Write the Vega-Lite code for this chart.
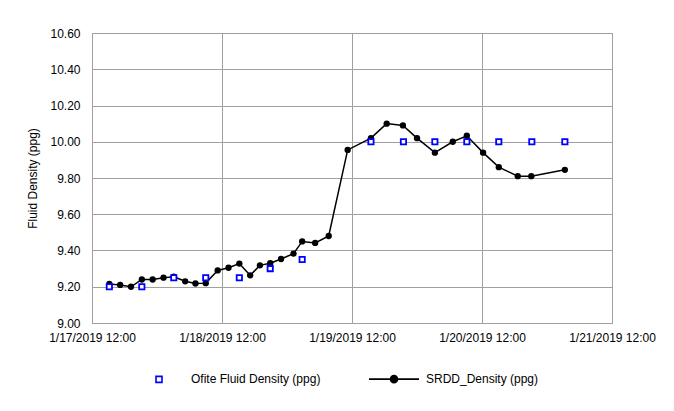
{
  "$schema": "https://vega.github.io/schema/vega-lite/v6.json",
  "autosize": {"type": "none"},
  "width": 520,
  "height": 290,
  "padding": {"left": 92, "top": 33, "right": 62, "bottom": 88},
  "background": "white",
  "config": {
    "view": {"stroke": "#a0a0a0", "strokeWidth": 1},
    "font": "Liberation Sans"
  },
  "data": {
    "values": [
      {"t": "2019-01-17T15:12", "v": 9.215, "series": "SRDD_Density (ppg)"},
      {"t": "2019-01-17T17:12", "v": 9.21, "series": "SRDD_Density (ppg)"},
      {"t": "2019-01-17T19:12", "v": 9.2, "series": "SRDD_Density (ppg)"},
      {"t": "2019-01-17T21:12", "v": 9.24, "series": "SRDD_Density (ppg)"},
      {"t": "2019-01-17T23:12", "v": 9.24, "series": "SRDD_Density (ppg)"},
      {"t": "2019-01-18T01:12", "v": 9.25, "series": "SRDD_Density (ppg)"},
      {"t": "2019-01-18T03:06", "v": 9.255, "series": "SRDD_Density (ppg)"},
      {"t": "2019-01-18T05:12", "v": 9.23, "series": "SRDD_Density (ppg)"},
      {"t": "2019-01-18T07:06", "v": 9.218, "series": "SRDD_Density (ppg)"},
      {"t": "2019-01-18T09:00", "v": 9.22, "series": "SRDD_Density (ppg)"},
      {"t": "2019-01-18T11:12", "v": 9.29, "series": "SRDD_Density (ppg)"},
      {"t": "2019-01-18T13:12", "v": 9.305, "series": "SRDD_Density (ppg)"},
      {"t": "2019-01-18T15:12", "v": 9.328, "series": "SRDD_Density (ppg)"},
      {"t": "2019-01-18T17:12", "v": 9.263, "series": "SRDD_Density (ppg)"},
      {"t": "2019-01-18T19:00", "v": 9.318, "series": "SRDD_Density (ppg)"},
      {"t": "2019-01-18T20:54", "v": 9.33, "series": "SRDD_Density (ppg)"},
      {"t": "2019-01-18T22:54", "v": 9.353, "series": "SRDD_Density (ppg)"},
      {"t": "2019-01-19T01:12", "v": 9.383, "series": "SRDD_Density (ppg)"},
      {"t": "2019-01-19T02:48", "v": 9.45, "series": "SRDD_Density (ppg)"},
      {"t": "2019-01-19T05:12", "v": 9.442, "series": "SRDD_Density (ppg)"},
      {"t": "2019-01-19T07:42", "v": 9.48, "series": "SRDD_Density (ppg)"},
      {"t": "2019-01-19T11:12", "v": 9.955, "series": "SRDD_Density (ppg)"},
      {"t": "2019-01-19T15:30", "v": 10.02, "series": "SRDD_Density (ppg)"},
      {"t": "2019-01-19T18:24", "v": 10.1, "series": "SRDD_Density (ppg)"},
      {"t": "2019-01-19T21:24", "v": 10.09, "series": "SRDD_Density (ppg)"},
      {"t": "2019-01-20T00:00", "v": 10.02, "series": "SRDD_Density (ppg)"},
      {"t": "2019-01-20T03:18", "v": 9.94, "series": "SRDD_Density (ppg)"},
      {"t": "2019-01-20T06:36", "v": 10.0, "series": "SRDD_Density (ppg)"},
      {"t": "2019-01-20T09:12", "v": 10.033, "series": "SRDD_Density (ppg)"},
      {"t": "2019-01-20T12:12", "v": 9.94, "series": "SRDD_Density (ppg)"},
      {"t": "2019-01-20T15:06", "v": 9.86, "series": "SRDD_Density (ppg)"},
      {"t": "2019-01-20T18:36", "v": 9.81, "series": "SRDD_Density (ppg)"},
      {"t": "2019-01-20T21:06", "v": 9.81, "series": "SRDD_Density (ppg)"},
      {"t": "2019-01-21T03:18", "v": 9.845, "series": "SRDD_Density (ppg)"},
      {"t": "2019-01-17T15:12", "v": 9.2, "series": "Ofite Fluid Density (ppg)"},
      {"t": "2019-01-17T21:12", "v": 9.2, "series": "Ofite Fluid Density (ppg)"},
      {"t": "2019-01-18T03:06", "v": 9.25, "series": "Ofite Fluid Density (ppg)"},
      {"t": "2019-01-18T09:00", "v": 9.25, "series": "Ofite Fluid Density (ppg)"},
      {"t": "2019-01-18T15:12", "v": 9.25, "series": "Ofite Fluid Density (ppg)"},
      {"t": "2019-01-18T20:54", "v": 9.3, "series": "Ofite Fluid Density (ppg)"},
      {"t": "2019-01-19T02:48", "v": 9.35, "series": "Ofite Fluid Density (ppg)"},
      {"t": "2019-01-19T15:30", "v": 10.0, "series": "Ofite Fluid Density (ppg)"},
      {"t": "2019-01-19T21:30", "v": 10.0, "series": "Ofite Fluid Density (ppg)"},
      {"t": "2019-01-20T03:18", "v": 10.0, "series": "Ofite Fluid Density (ppg)"},
      {"t": "2019-01-20T09:12", "v": 10.0, "series": "Ofite Fluid Density (ppg)"},
      {"t": "2019-01-20T15:06", "v": 10.0, "series": "Ofite Fluid Density (ppg)"},
      {"t": "2019-01-20T21:12", "v": 10.0, "series": "Ofite Fluid Density (ppg)"},
      {"t": "2019-01-21T03:18", "v": 10.0, "series": "Ofite Fluid Density (ppg)"}
    ]
  },
  "encoding": {
    "x": {
      "field": "t",
      "type": "temporal",
      "scale": {"domain": [{"year": 2019, "month": 1, "date": 17, "hours": 12}, {"year": 2019, "month": 1, "date": 21, "hours": 12}]},
      "axis": {
        "title": null,
        "values": [
          {"year": 2019, "month": 1, "date": 17, "hours": 12},
          {"year": 2019, "month": 1, "date": 18, "hours": 12},
          {"year": 2019, "month": 1, "date": 19, "hours": 12},
          {"year": 2019, "month": 1, "date": 20, "hours": 12},
          {"year": 2019, "month": 1, "date": 21, "hours": 12}
        ],
        "format": "%-m/%-d/%Y %H:%M",
        "labelFont": "Liberation Sans",
        "labelFontSize": 12,
        "labelColor": "#000000",
        "labelPadding": 9,
        "labelFlush": false,
        "labelOverlap": false,
        "domain": false,
        "ticks": false,
        "grid": true,
        "gridColor": "#a0a0a0",
        "gridOpacity": 1
      }
    },
    "y": {
      "field": "v",
      "type": "quantitative",
      "scale": {"domain": [9, 10.6], "nice": false, "zero": false},
      "axis": {
        "title": "Fluid Density (ppg)",
        "titleFont": "Liberation Sans",
        "titleFontSize": 12,
        "titleFontWeight": "normal",
        "titleColor": "#000000",
        "titlePadding": 10,
        "values": [9.0, 9.2, 9.4, 9.6, 9.8, 10.0, 10.2, 10.4, 10.6],
        "format": ".2f",
        "labelFont": "Liberation Sans",
        "labelFontSize": 12,
        "labelColor": "#000000",
        "labelPadding": 12,
        "labelFlush": false,
        "labelOverlap": false,
        "domain": false,
        "ticks": false,
        "grid": true,
        "gridColor": "#a0a0a0",
        "gridOpacity": 1
      }
    }
  },
  "layer": [
    {
      "transform": [{"filter": "datum.series === 'SRDD_Density (ppg)'"}],
      "mark": {"type": "line", "color": "#000000", "strokeWidth": 1.5}
    },
    {
      "transform": [{"filter": "datum.series === 'SRDD_Density (ppg)'"}],
      "mark": {"type": "point", "shape": "circle", "filled": true, "color": "#000000", "size": 40, "opacity": 1}
    },
    {
      "transform": [{"filter": "datum.series === 'Ofite Fluid Density (ppg)'"}],
      "mark": {"type": "point", "shape": "square", "filled": false, "stroke": "#0000ff", "fill": "#ffffff", "fillOpacity": 1, "strokeWidth": 1.8, "size": 28, "opacity": 1}
    },
    {
      "mark": {"type": "point", "opacity": 0, "size": 1},
      "encoding": {
        "shape": {
          "field": "series",
          "type": "nominal",
          "scale": {
            "domain": ["Ofite Fluid Density (ppg)", "SRDD_Density (ppg)"],
            "range": ["M-0.12,-0.12H0.12V0.12H-0.12Z", "M-1,0H1M-0.14,0A0.14,0.14,0,1,1,0.14,0A0.14,0.14,0,1,1,-0.14,0Z"]
          },
          "legend": {
            "title": null,
            "orient": "none",
            "direction": "horizontal",
            "legendX": 41,
            "legendY": 320,
            "symbolSize": 2500,
            "symbolOpacity": 1,
            "symbolStrokeWidth": 1.6,
            "labelFont": "Liberation Sans",
            "labelFontSize": 12,
            "labelColor": "#000000",
            "labelOffset": 6,
            "columnPadding": 44,
            "padding": 0
          }
        },
        "stroke": {
          "field": "series",
          "type": "nominal",
          "scale": {"domain": ["Ofite Fluid Density (ppg)", "SRDD_Density (ppg)"], "range": ["#0000ff", "#000000"]}
        },
        "fill": {
          "field": "series",
          "type": "nominal",
          "scale": {"domain": ["Ofite Fluid Density (ppg)", "SRDD_Density (ppg)"], "range": ["#ffffff", "#000000"]}
        }
      }
    }
  ]
}
